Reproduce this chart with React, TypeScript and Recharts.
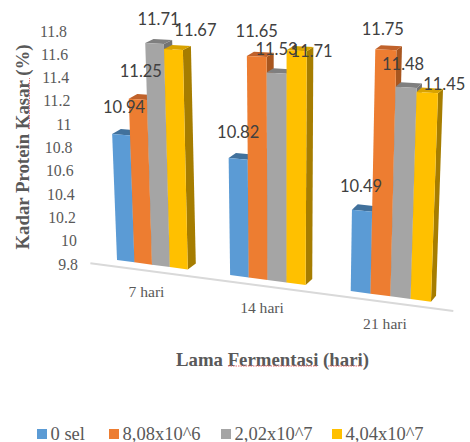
import React from 'react';
import { BarChart, Bar, XAxis, YAxis, Legend, LabelList, ReferenceLine } from 'recharts';

const categories = ['7 hari', '14 hari', '21 hari'];
const sel0 = [10.94, 10.82, 10.49];
const sel808e6 = [11.25, 11.65, 11.75];
const sel202e7 = [11.71, 11.53, 11.48];
const sel404e7 = [11.67, 11.71, 11.45];
const yTicks = [9.8, 10, 10.2, 10.4, 10.6, 10.8, 11, 11.2, 11.4, 11.6, 11.8];

const data = categories.map((name, i) => ({
  name,
  sel0: sel0[i],
  sel808e6: sel808e6[i],
  sel202e7: sel202e7[i],
  sel404e7: sel404e7[i],
}));

const WIDTH = 470;
const HEIGHT = 442;
const MARGIN = { top: 50, right: 62, left: 0, bottom: 122 };
const AXIS_W = 40;
const X_AXIS_H = 30;
const PLOT_H = HEIGHT - MARGIN.top - MARGIN.bottom - X_AXIS_H;
const PAD_LEFT = 8;
const BAND_MID = AXIS_W + PAD_LEFT + 180;
const GREY = '#595959';
const SERIF = '"Liberation Serif", serif';
const SQUIGGLE = '#ea6f6f';

// The flat chart is pushed through a fake perspective: categories spread out
// to the right, the floor slopes down and the verticals fan out slightly.
const floorX = (flatX: number) => {
  const t = flatX - BAND_MID;
  return 268 + 0.99375 * t + 0.00026 * t * t;
};
const baseY = (x: number) => 260 + 0.133 * (x - 117);
const lineY = (x: number) => 263 + 0.132 * (x - 89);

// v is the height in axis units above 9.8
const project = (flatX: number, v: number): [number, number] => {
  const x = floorX(flatX);
  const h = v * (106 + 0.042 * (x - 150) + 5.2 * v);
  return [x + (x - 285) * 0.00023 * h, baseY(x) - h];
};

const poly = (pts: [number, number][]) => pts.map((p) => p.join(',')).join(' ');

const bar3d = (side: string, top: string) => (props: any) => {
  const { x, width, height, fill } = props;
  const v = (height / PLOT_H) * 2;
  const fl = project(x, 0);
  const fr = project(x + width, 0);
  const tl = project(x, v);
  const tr = project(x + width, v);
  const dx = 8 - 0.0122 * (fr[0] - 190);
  const shift = (p: [number, number], dy: number): [number, number] => [p[0] + dx, p[1] + dy];
  const dyBase = -6;
  const dyTop = -(6 - v);
  return (
    <g>
      <polygon points={poly([fr, tr, shift(tr, dyTop), shift(fr, dyBase)])} fill={side} />
      <polygon points={poly([tl, tr, shift(tr, dyTop), shift(tl, dyTop)])} fill={top} />
      <polygon points={poly([fl, fr, tr, tl])} fill={fill} />
    </g>
  );
};

// hand placed data labels, relative to the top of their bar
const nudges: Record<string, [number, number][]> = {
  sel0: [[3, -28], [0, -27], [-1, -25]],
  sel808e6: [[3, -28], [0, -25], [-3, -21]],
  sel202e7: [[4, -25], [0, -24.5], [-3, -23]],
  sel404e7: [[22, -20], [15, 0], [17, -9]],
};

const valueLabel = (key: string) => (props: any) => {
  const { x, width, height, value, index } = props;
  const v = (height / PLOT_H) * 2;
  const [px, py] = project(x + width / 2, v);
  const [nx, ny] = nudges[key][index];
  return (
    <text
      x={px + nx}
      y={py + ny}
      textAnchor="middle"
      dominantBaseline="central"
      fontFamily="Lato, sans-serif"
      fontSize={16.5}
      fill="#404040"
    >
      {Number(value).toFixed(2)}
    </text>
  );
};

const YTick = (props: any) => {
  const value = props.payload.value;
  const v = value - 9.8;
  return (
    <text
      x={78 - 5.5 * v}
      y={264 - 116.5 * v}
      textAnchor="end"
      dominantBaseline="central"
      fontFamily={SERIF}
      fontSize={15.8}
      fill={GREY}
    >
      {value}
    </text>
  );
};

const XTick = (props: any) => {
  const x = floorX(props.x);
  return (
    <text
      x={x - 6}
      y={lineY(x) + 20.5}
      textAnchor="middle"
      dominantBaseline="central"
      fontFamily={SERIF}
      fontSize={15.6}
      fill={GREY}
    >
      {props.payload.value}
    </text>
  );
};

const FloorLine = (props: any) => {
  const x1 = floorX(props.x1);
  const x2 = floorX(props.x2) - 2;
  return <line x1={x1} y1={lineY(x1)} x2={x2} y2={lineY(x2)} stroke="#d9d9d9" strokeWidth={2} />;
};

const YTitle = () => (
  <g>
    <text
      transform="translate(22,147) rotate(-90)"
      textAnchor="middle"
      dominantBaseline="central"
      fontFamily={SERIF}
      fontWeight="bold"
      fontSize={18.8}
      fill={GREY}
    >
      Kadar Protein Kasar (%)
    </text>
    {/* spell-check squiggle under Kasar */}
    <line x1={29.5} y1={129} x2={29.5} y2={78} stroke={SQUIGGLE} strokeWidth={1} strokeDasharray="1.5 1" />
  </g>
);

const XTitle = () => (
  <g>
    <text
      x={272.5}
      y={359}
      textAnchor="middle"
      dominantBaseline="central"
      fontFamily={SERIF}
      fontWeight="bold"
      fontSize={18.8}
      fill={GREY}
    >
      Lama Fermentasi (hari)
    </text>
    <line x1={228} y1={366} x2={317} y2={366} stroke={SQUIGGLE} strokeWidth={1} strokeDasharray="1.5 1" />
    <line x1={328} y1={366} x2={363} y2={366} stroke={SQUIGGLE} strokeWidth={1} strokeDasharray="1.5 1" />
  </g>
);

const legendLefts = [37, 109, 221, 332];

const LegendRow = (props: any) => (
  <div style={{ position: 'relative', width: WIDTH, height: 24 }}>
    {props.payload.map((item: any, i: number) => (
      <div
        key={item.value}
        style={{
          position: 'absolute',
          left: legendLefts[i],
          top: 0,
          display: 'flex',
          alignItems: 'center',
          height: 24,
          fontFamily: SERIF,
          fontSize: 18.5,
          color: GREY,
          whiteSpace: 'nowrap',
        }}
      >
        <span style={{ width: 10, height: 10, background: item.color, marginRight: 3.5 }} />
        {item.value}
      </div>
    ))}
  </div>
);

export default function App() {
  return (
    <div style={{ position: 'absolute', left: 0, top: 0, width: WIDTH, height: HEIGHT, background: '#fff' }}>
      <BarChart
        width={WIDTH}
        height={HEIGHT}
        data={data}
        margin={MARGIN}
        barCategoryGap={21.5}
        barGap={0}
      >
        <XAxis
          dataKey="name"
          height={X_AXIS_H}
          padding={{ left: PAD_LEFT, right: 0 }}
          axisLine={false}
          tickLine={false}
          tick={XTick}
          label={{ content: XTitle }}
        />
        <YAxis
          width={AXIS_W}
          domain={[9.8, 11.8]}
          ticks={yTicks}
          interval={0}
          axisLine={false}
          tickLine={false}
          tick={YTick}
          label={{ content: YTitle }}
        />
        <ReferenceLine y={9.8} shape={FloorLine} />
        <Legend
          layout="horizontal"
          verticalAlign="middle"
          itemSorter={null}
          content={LegendRow}
          wrapperStyle={{ left: 0, top: 422, width: WIDTH }}
        />
        <Bar dataKey="sel0" name="0 sel" fill="#5B9BD5" isAnimationActive={false} shape={bar3d('#3F74A6', '#41719C')}>
          <LabelList content={valueLabel('sel0')} />
        </Bar>
        <Bar dataKey="sel808e6" name="8,08x10^6" fill="#ED7D31" isAnimationActive={false} shape={bar3d('#A8561F', '#C0622B')}>
          <LabelList content={valueLabel('sel808e6')} />
        </Bar>
        <Bar dataKey="sel202e7" name="2,02x10^7" fill="#A5A5A5" isAnimationActive={false} shape={bar3d('#737373', '#7F7F7F')}>
          <LabelList content={valueLabel('sel202e7')} />
        </Bar>
        <Bar dataKey="sel404e7" name="4,04x10^7" fill="#FFC000" isAnimationActive={false} shape={bar3d('#A67D00', '#D9A300')}>
          <LabelList content={valueLabel('sel404e7')} />
        </Bar>
      </BarChart>
    </div>
  );
}
